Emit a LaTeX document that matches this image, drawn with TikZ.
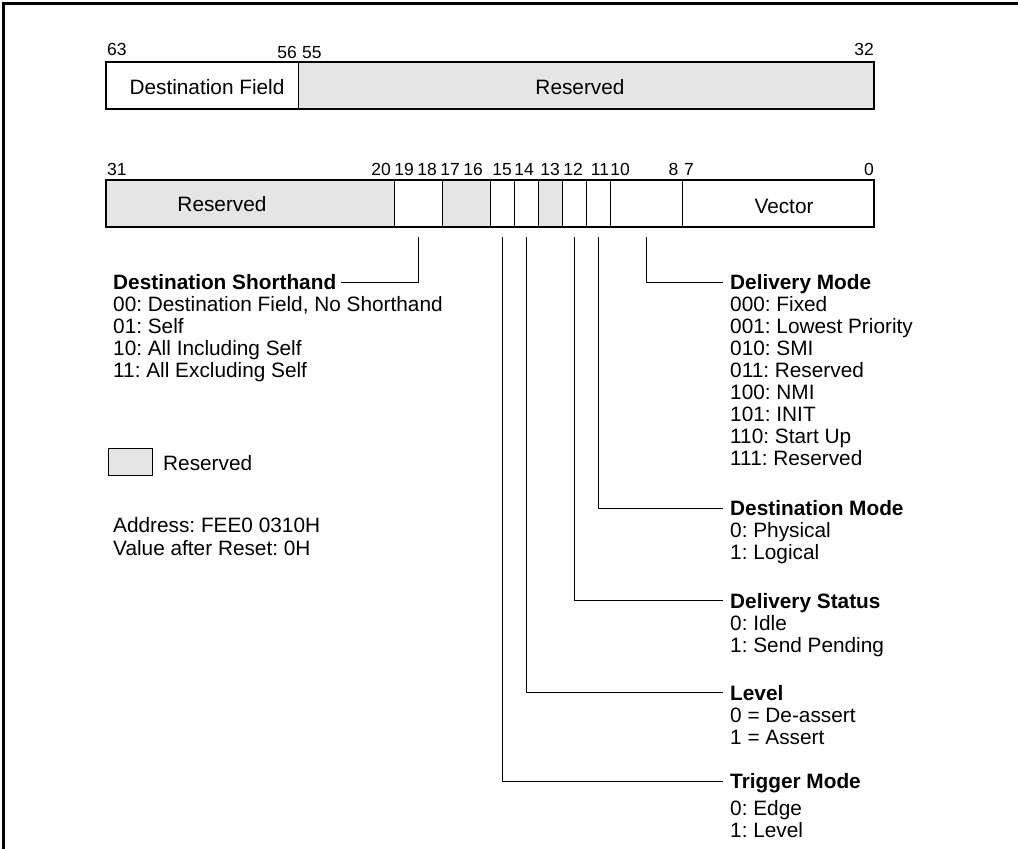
\documentclass[tikz,border=0pt]{standalone}
\usepackage{fontspec}
\setmainfont{Liberation Sans}
\definecolor{resgray}{RGB}{229,229,229}
\frenchspacing
\begin{document}
\begin{tikzpicture}[x=1pt,y=-1pt,
  txt/.style={anchor=base west,inner sep=0pt,font=\fontsize{20.8}{22}\selectfont},
  ctxt/.style={anchor=base,inner sep=0pt,font=\fontsize{20.8}{22}\selectfont},
  bitlbl/.style={anchor=base,inner sep=0pt,font=\fontsize{17.5}{18}\selectfont},
  field/.style={draw,line width=0.9pt,rectangle,inner sep=0pt,outer sep=0pt,minimum height=47pt,anchor=north west},
  resfield/.style={field,fill=resgray},
  outline/.style={line width=1.8pt},
  conn/.style={line width=1pt},
  frameline/.style={line width=2.5pt}]
\useasboundingbox (0,0) rectangle (1018,849);
\draw[frameline] (3.5,849) -- (3.5,3.5) -- (1018,3.5);

% ---------- upper register (63..32) ----------
\node[field,minimum width=192pt] (f63) at (106,62) {};
\node[resfield,minimum width=576pt] (r55) at (298,62) {};
\draw[outline] (106,62) rectangle (874,109);
\node[ctxt] (tdest) at (207,94) {Destination Field};
\node[ctxt] (tres1) at (580,94) {Reserved};
\node[bitlbl,anchor=base west] (b63) at (107,55) {63};
\node[bitlbl,anchor=base east] (b56) at (297,58) {56};
\node[bitlbl,anchor=base west] (b55) at (302,58) {55};
\node[bitlbl,anchor=base east] (b32) at (874,55) {32};

% ---------- lower register (31..0) ----------
\node[resfield,minimum width=288pt] (r31) at (106,180) {};
\node[field,minimum width=48pt] (f19) at (394,180) {};
\node[resfield,minimum width=48pt] (r17) at (442,180) {};
\node[field,minimum width=24pt] (f15) at (490,180) {};
\node[field,minimum width=24pt] (f14) at (514,180) {};
\node[resfield,minimum width=24pt] (r13) at (538,180) {};
\node[field,minimum width=24pt] (f12) at (562,180) {};
\node[field,minimum width=24pt] (f11) at (586,180) {};
\node[field,minimum width=72pt] (f10) at (610,180) {};
\node[field,minimum width=192pt] (f7) at (682,180) {};
\draw[outline] (106,180) rectangle (874,227);
\node[ctxt] (tres2) at (222,211) {Reserved};
\node[ctxt] (tvec) at (784,213) {Vector};

\node[bitlbl,anchor=base west] (b31) at (107,175) {31};
\node[bitlbl] (b20) at (381,175) {20};
\node[bitlbl] (b19) at (404,175) {19};
\node[bitlbl] (b18) at (427,175) {18};
\node[bitlbl] (b17) at (450,175) {17};
\node[bitlbl] (b16) at (473,175) {16};
\node[bitlbl] (b15) at (502,175) {15};
\node[bitlbl] (b14) at (524,175) {14};
\node[bitlbl] (b13) at (550,175) {13};
\node[bitlbl] (b12) at (573,175) {12};
\node[bitlbl] (b11) at (600,175) {11};
\node[bitlbl] (b10) at (620,175) {10};
\node[bitlbl] (b8) at (673.5,175) {8};
\node[bitlbl] (b7) at (689,175) {7};
\node[bitlbl,anchor=base east] (b0) at (874,175) {0};

% ---------- Destination Shorthand ----------
\node[txt] (ds0) at (113,289) {\textbf{Destination Shorthand}};
\foreach \t [count=\i] in {{00: Destination Field, No Shorthand},{01: Self},{10: All Including Self},{11: All Excluding Self}}
  \node[txt] (ds\i) at (113,{289+22*\i}) {\t};

% ---------- Delivery Mode ----------
\node[txt] (dm0) at (730,289) {\textbf{Delivery Mode}};
\foreach \t [count=\i] in {000: Fixed,001: Lowest Priority,010: SMI,011: Reserved,100: NMI,101: INIT,110: Start Up,111: Reserved}
  \node[txt] (dm\i) at (730,{289+22*\i}) {\t};

% ---------- Destination Mode ----------
\node[txt] (dd0) at (730,515) {\textbf{Destination Mode}};
\node[txt] (dd1) at (730,537) {0: Physical};
\node[txt] (dd2) at (730,559) {1: Logical};

% ---------- Delivery Status ----------
\node[txt] (st0) at (730,608) {\textbf{Delivery Status}};
\node[txt] (st1) at (730,630) {0: Idle};
\node[txt] (st2) at (730,652) {1: Send Pending};

% ---------- Level ----------
\node[txt] (lv0) at (730,700) {\textbf{Level}};
\node[txt] (lv1) at (730,722) {0 = De-assert};
\node[txt] (lv2) at (730,744) {1 = Assert};

% ---------- Trigger Mode ----------
\node[txt] (tm0) at (730,788) {\textbf{Trigger Mode}};
\node[txt] (tm1) at (730,815) {0: Edge};
\node[txt] (tm2) at (730,837) {1: Level};

% ---------- connectors ----------
\draw[conn] ([yshift=-10pt]f19.south) |- ([xshift=5pt,yshift=7pt]ds0.base east);
\draw[conn] ([yshift=-10pt]f10.south) |- ([xshift=-7pt,yshift=7pt]dm0.base west);
\draw[conn] ([yshift=-10pt]f11.south) |- ([xshift=-7pt,yshift=7pt]dd0.base west);
\draw[conn] ([yshift=-10pt]f12.south) |- ([xshift=-7pt,yshift=7.5pt]st0.base west);
\draw[conn] ([yshift=-10pt]f14.south) |- ([xshift=-7pt,yshift=7.5pt]lv0.base west);
\draw[conn] ([yshift=-10pt]f15.south) |- ([xshift=-7pt,yshift=7pt]tm0.base west);

% ---------- legend ----------
\node[draw,line width=0.9pt,fill=resgray,inner sep=0pt,minimum width=44pt,minimum height=27pt,anchor=north west] (leg) at (108,448) {};
\node[txt] (legt) at (163,470) {Reserved};
\node[txt] (addr) at (113,532) {Address: FEE0 0310H};
\node[txt] (rst) at (113,555) {Value after Reset: 0H};
\end{tikzpicture}
\end{document}
